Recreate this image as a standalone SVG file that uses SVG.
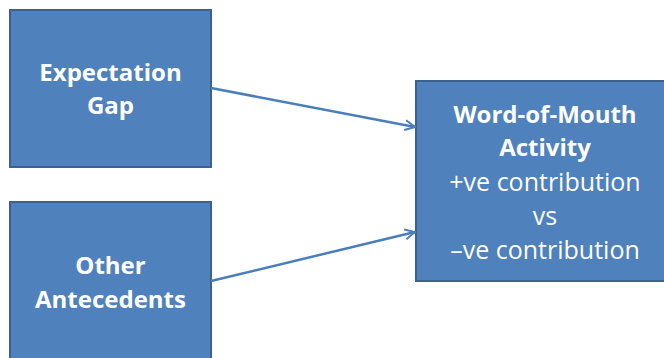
<svg xmlns="http://www.w3.org/2000/svg" width="664" height="358" viewBox="0 0 664 358">
<defs>
<style>
.box{fill:#4F81BD;stroke:#3A6190;stroke-width:2}
.t{fill:#fff;font-family:"Open Sans","Liberation Sans",sans-serif;font-size:25px;text-anchor:middle}
.b{font-weight:bold;font-size:24px}
.c{stroke:#4A7EBB;stroke-width:2.5;fill:none}
</style>
<marker id="ah" viewBox="0 0 12 12" refX="11" refY="6" markerWidth="12" markerHeight="12" markerUnits="userSpaceOnUse" orient="auto">
<path d="M1,1 L11,6 L1,11" fill="none" stroke="#4A7EBB" stroke-width="2"/>
</marker>
</defs>
<g id="node-expectation-gap">
<rect class="box" x="10" y="10" width="201" height="157"/>
<text class="t b" x="110.5" y="81">Expectation</text>
<text class="t b" x="110.5" y="114">Gap</text>
</g>
<g id="node-other-antecedents">
<rect class="box" x="10" y="202" width="201" height="170"/>
<text class="t b" x="110.5" y="274">Other</text>
<text class="t b" x="110.5" y="308">Antecedents</text>
</g>
<g id="node-wom">
<rect class="box" x="416" y="81" width="260" height="200"/>
<text class="t b" x="545" y="123">Word-of-Mouth</text>
<text class="t b" x="545" y="156">Activity</text>
<text class="t" x="545" y="191">+ve contribution</text>
<text class="t" x="545" y="225">vs</text>
<text class="t" x="545" y="259">–ve contribution</text>
</g>
<g id="connectors">
<line class="c" x1="211" y1="88" x2="415" y2="127" marker-end="url(#ah)"/>
<line class="c" x1="211" y1="281" x2="415" y2="232" marker-end="url(#ah)"/>
</g>
</svg>
